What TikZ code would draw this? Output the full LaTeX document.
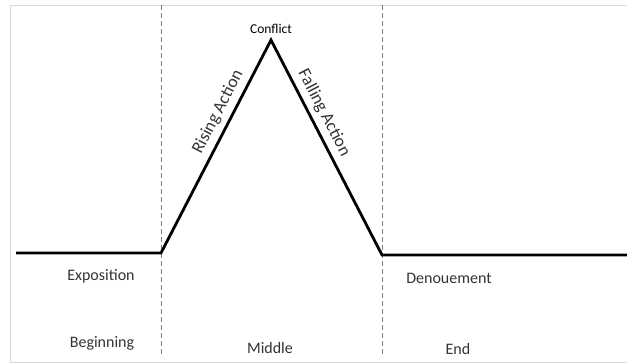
\documentclass[tikz,border=0pt]{standalone}
\usepackage{fontspec}
\setmainfont{Carlito}
\usetikzlibrary{positioning}
\definecolor{txtGrey}{HTML}{333333}
\definecolor{frameGrey}{HTML}{D9D9D9}
\tikzset{
  plotline/.style = {line width=2.8pt, black, line join=miter},
  divider/.style  = {gray, line width=0.6pt, dash pattern=on 5pt off 3pt},
  lbl/.style      = {font=\fontsize{16}{19}\selectfont, txtGrey, inner sep=0pt},
  slopelbl/.style = {font=\fontsize{17.5}{20}\selectfont, txtGrey, inner sep=0pt},
}

\begin{document}
\begin{tikzpicture}[x=1pt, y=-1pt]
  \useasboundingbox (0,0) rectangle (627,364);
  % frame
  \draw[frameGrey, line width=0.8pt] (627,5) -- (10,5) -- (10,362) -- (627,362);
  % act dividers
  \coordinate (d1top) at (161,5);
  \coordinate (d1bot) at (161,357);
  \coordinate (d2top) at (382,5);
  \coordinate (d2bot) at (382,357);
  \draw[divider] (d1top) -- (d1bot);
  \draw[divider] (d2top) -- (d2bot);
  % plot line
  \coordinate (start) at (16,253);
  \coordinate (rise) at (161,253);
  \coordinate (peak) at (271,40);
  \coordinate (fall) at (382,255);
  \coordinate (finish) at (627,255);
  \draw[plotline] (start) -- (rise) -- (peak) -- (fall) -- (finish);
  % labels
  \node[lbl, font=\fontsize{13.5}{16}\selectfont, text=black, above=6pt of peak] (conflict) {Conflict};
  \node[slopelbl, rotate=62.7] (rising) at (218,112) {Rising Action};
  \node[slopelbl, rotate=-62.7] (falling) at (324,113) {Falling Action};
  \node[lbl] (expo) at (101,276) {Exposition};
  \node[lbl] (denoue) at (449,278) {Denouement};
  \node[lbl] (begin) at (102,343) {Beginning};
  \node[lbl] (middle) at (270,348) {Middle};
  \node[lbl] (end) at (458,349) {End};
\end{tikzpicture}
\end{document}
